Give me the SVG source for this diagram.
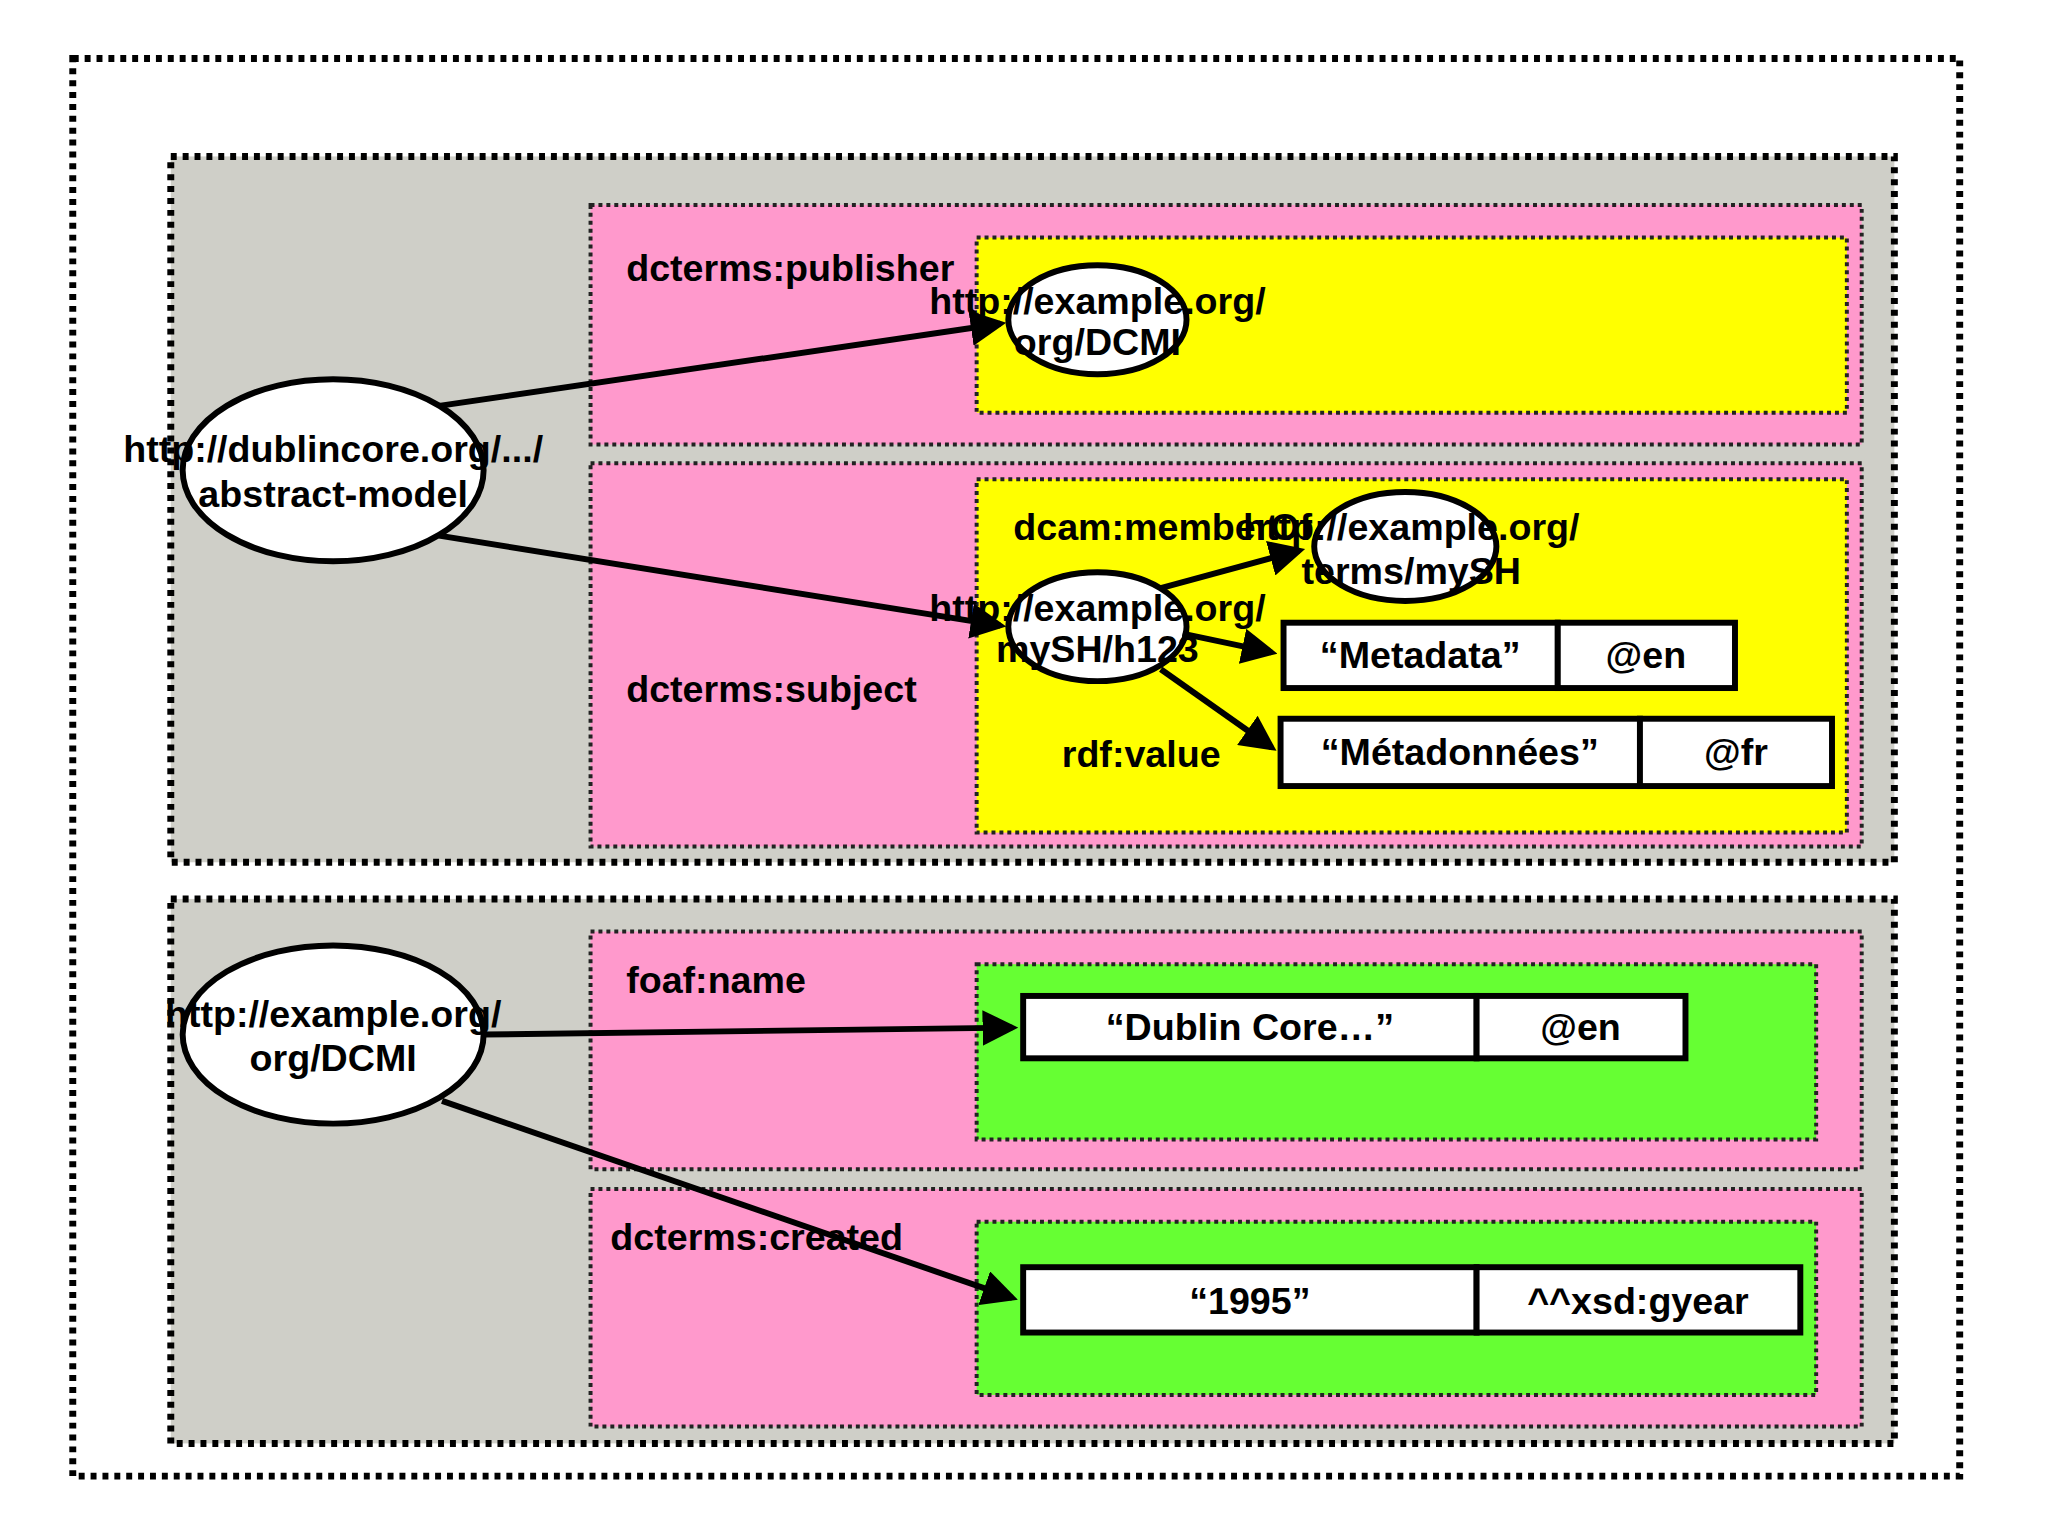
<svg xmlns="http://www.w3.org/2000/svg" width="2048" height="1536" viewBox="0 0 2048 1536">
<style>
.c{stroke:#000;stroke-width:7;stroke-dasharray:6 6}
.p{fill:#ff99cc;stroke:#222;stroke-width:4;stroke-dasharray:4 4}
.y{fill:#ffff00;stroke:#222;stroke-width:4;stroke-dasharray:4 4}
.g{fill:#66ff33;stroke:#222;stroke-width:4;stroke-dasharray:4 4}
.e{fill:#fff;stroke:#000;stroke-width:6}
.b{fill:#fff;stroke:#000;stroke-width:6}
text{font-family:"Liberation Sans Narrow","Liberation Sans",Arial,sans-serif;font-weight:bold;font-size:38px;fill:#000}
.m{text-anchor:middle}
.a{stroke:#000;stroke-width:6;fill:none;marker-end:url(#ah)}
</style>
<defs><marker id="ah" markerWidth="6" markerHeight="6" refX="5" refY="3" orient="auto" markerUnits="strokeWidth"><path d="M0,0 L6,3 L0,6 z" fill="#000"/></marker></defs>
<rect width="2048" height="1536" fill="#fff"/>
<g transform="translate(0.5,0) scale(0.99)">
<rect class="c" x="73" y="59" width="1906" height="1432" fill="#fff"/>
<g id="desc1">
<rect class="c" x="172" y="158" width="1741" height="713" fill="#cfcfc8"/>
<rect class="p" x="596" y="207" width="1284" height="242"/>
<rect class="y" x="986" y="240" width="879" height="177"/>
<rect class="p" x="596" y="468" width="1284" height="387"/>
<rect class="y" x="986" y="484" width="879" height="357"/>
<text x="632" y="284">dcterms:publisher</text>
<text x="632" y="709">dcterms:subject</text>
<text x="1023" y="545">dcam:memberOf</text>
<text x="1072" y="775">rdf:value</text>
</g>
<g id="desc2">
<rect class="c" x="172" y="908" width="1741" height="550" fill="#cfcfc8"/>
<rect class="p" x="596" y="941" width="1284" height="240"/>
<rect class="g" x="986" y="974" width="848" height="177"/>
<rect class="p" x="596" y="1201" width="1284" height="240"/>
<rect class="g" x="986" y="1234" width="848" height="175"/>
<text x="632" y="1003">foaf:name</text>
<text x="616" y="1263">dcterms:created</text>
</g>
<g id="n-abstract"><ellipse class="e" cx="336" cy="475" rx="152" ry="92"/><text class="m" x="336" y="467">http://dublincore.org/.../</text><text class="m" x="336" y="512">abstract-model</text></g>
<g id="n-pub"><ellipse class="e" cx="1108" cy="323" rx="90" ry="55"/><text class="m" x="1108" y="317">http://example.org/</text><text class="m" x="1108" y="359">org/DCMI</text></g>
<g id="n-mysh"><ellipse class="e" cx="1419" cy="552" rx="92" ry="55"/><text class="m" x="1425" y="545">http://example.org/</text><text class="m" x="1425" y="590">terms/mySH</text></g>
<g id="n-h123"><ellipse class="e" cx="1108" cy="633" rx="90" ry="55"/><text class="m" x="1108" y="627">http://example.org/</text><text class="m" x="1108" y="669">mySH/h123</text></g>
<g id="n-dcmi"><ellipse class="e" cx="336" cy="1045" rx="152" ry="90"/><text class="m" x="336" y="1037">http://example.org/</text><text class="m" x="336" y="1082">org/DCMI</text></g>
<g id="l-meta"><rect class="b" x="1296" y="629" width="277" height="66"/><rect class="b" x="1573" y="629" width="179" height="66"/><text class="m" x="1434" y="675">“Metadata”</text><text class="m" x="1662" y="675">@en</text></g>
<g id="l-metafr"><rect class="b" x="1293" y="726" width="363" height="68"/><rect class="b" x="1656" y="726" width="194" height="68"/><text class="m" x="1474" y="773">“Métadonnées”</text><text class="m" x="1753" y="773">@fr</text></g>
<g id="l-dc"><rect class="b" x="1033" y="1006" width="458" height="63"/><rect class="b" x="1491" y="1006" width="211" height="63"/><text class="m" x="1262" y="1051">“Dublin Core…”</text><text class="m" x="1596" y="1051">@en</text></g>
<g id="l-1995"><rect class="b" x="1033" y="1280" width="458" height="66"/><rect class="b" x="1491" y="1280" width="327" height="66"/><text class="m" x="1262" y="1327">“1995”</text><text class="m" x="1654" y="1327">^^xsd:gyear</text></g>
<g id="connectors">
<line class="a" x1="443" y1="410" x2="1010" y2="327"/>
<line class="a" x1="443" y1="541" x2="1010" y2="632"/>
<line class="a" x1="1172" y1="594" x2="1312" y2="556"/>
<line class="a" x1="1194" y1="640" x2="1284" y2="659"/>
<line class="a" x1="1172" y1="676" x2="1284" y2="755"/>
<line class="a" x1="488" y1="1045" x2="1022" y2="1038"/>
<line class="a" x1="446" y1="1112" x2="1022" y2="1311"/>
</g>
</g>
</svg>
